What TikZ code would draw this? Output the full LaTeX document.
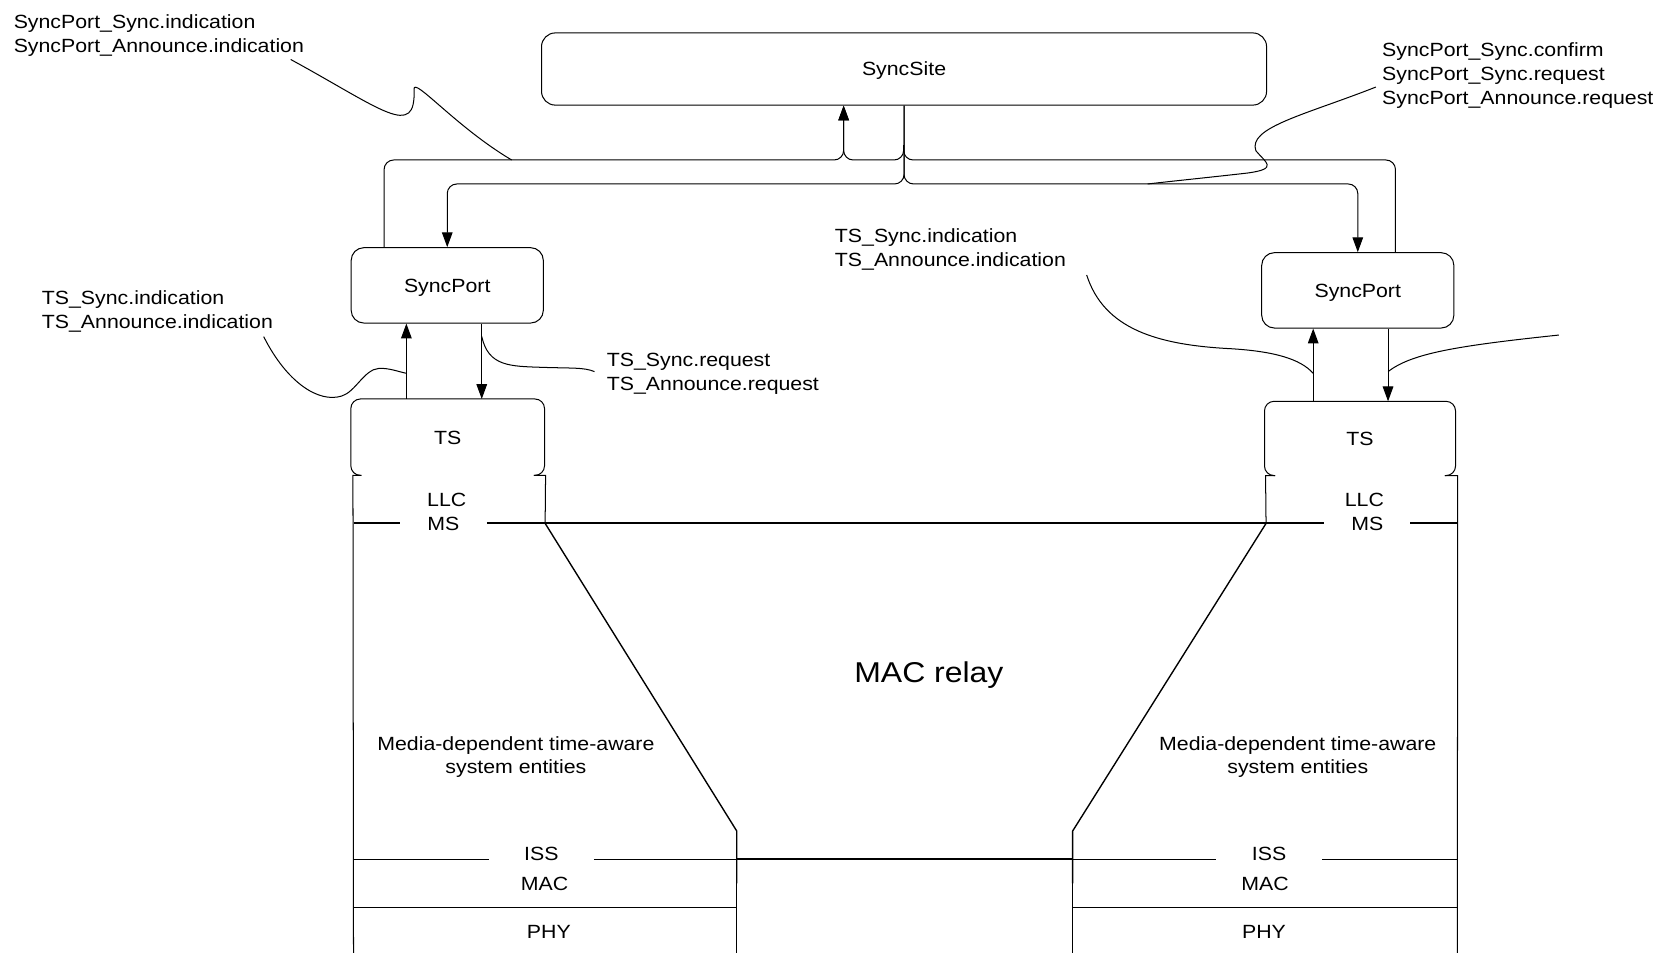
\documentclass[tikz,border=0pt]{standalone}
\usepackage{fontspec}
\setmainfont{Liberation Sans}[FakeStretch=1.115]
\usetikzlibrary{arrows.meta}

\begin{document}
\begin{tikzpicture}[x=1pt,y=-1pt,line width=0.95pt,
    lbl/.style={font=\fontsize{18}{22.5}\selectfont,inner sep=0pt,text height=12.9pt,text depth=0pt},
    note/.style={font=\fontsize{18}{22.5}\selectfont,inner sep=0pt,align=left,anchor=north west},
    box/.style={lbl,draw,rounded corners=12pt,minimum width=181pt,minimum height=71pt},
    arr/.style={-{Triangle[length=14pt,width=10pt]}},
    thk/.style={line width=1.8pt}]
    \useasboundingbox (0,0) rectangle (1568.4,897.7);

    \node [box,minimum width=683pt,minimum height=68pt,rounded corners=13pt] (site) at (851.6,65) {SyncSite};
    \node [box] (spL) at (421.3,268.8) {SyncPort};
    \node [box] (spR) at (1279,273.5) {SyncPort};
    \node [box,draw=none,minimum width=181.5pt] (tsL) at (421.7,411.8) {TS};
    \node [box,draw=none,minimum width=179pt,minimum height=69pt] (tsR) at (1281.1,413) {TS};

    \node [note] (ntA) at (12.5,13.1) {SyncPort\_Sync.indication\\SyncPort\_Announce.indication};
    \node [note] (ntB) at (1301.5,39.9) {SyncPort\_Sync.confirm\\SyncPort\_Sync.request\\SyncPort\_Announce.request};
    \node [note] (ntC) at (39,273.5) {TS\_Sync.indication\\TS\_Announce.indication};
    \node [note] (ntD) at (571.2,332.5) {TS\_Sync.request\\TS\_Announce.request};
    \node [note] (ntE) at (786,214.8) {TS\_Sync.indication\\TS\_Announce.indication};

    \node [lbl] (llcL) at (420.8,470.2) {LLC};
    \node [lbl,minimum width=81pt] (msL) at (417.6,493) {MS};
    \node [lbl] (llcR) at (1285.2,470.2) {LLC};
    \node [lbl,minimum width=80pt] (msR) at (1288,493) {MS};
    \node [lbl,font=\fontsize{27}{32}\selectfont,text height=19.3pt] (relay) at (875,633.3) {MAC relay};
    \node [note,anchor=north,align=center] (mdL) at (486,693) {Media-dependent time-aware\\system entities};
    \node [note,anchor=north,align=center] (mdR) at (1222.5,693) {Media-dependent time-aware\\system entities};
    \node [lbl,minimum width=98pt] (issL) at (510,804.2) {ISS};
    \node [lbl,minimum width=99pt] (issR) at (1195.5,804.2) {ISS};
    \node [lbl] (macL) at (513,831.9) {MAC};
    \node [lbl] (macR) at (1191.6,831.9) {MAC};
    \node [lbl] (phyL) at (517,878) {PHY};
    \node [lbl] (phyR) at (1190.7,878) {PHY};

    \coordinate (upbus) at (794.7,150.7);
    \coordinate (cross) at (851.2,150.7);
    \coordinate (dnbus) at (851.2,173.3);
    \coordinate (issy) at (0,809.5);

    \draw [arr,rounded corners=9pt] ([xshift=-59.5pt]spL.north) |- (upbus) -- (upbus |- site.south);
    \draw [rounded corners=9pt] ([xshift=35.5pt]spR.north) |- (cross) -- ++(0,-14);
    \draw [arr,rounded corners=9pt] (cross) ++(0,-14) -- (cross) -- (upbus) -- (upbus |- site.south);
    \draw [arr,rounded corners=9pt] (site.south) -- (site.south |- dnbus) -| (spL.north);
    \draw [arr,rounded corners=9pt] (site.south) -- (site.south |- dnbus) -| (spR.north);

    \draw [arr] ([xshift=-38.9pt]tsL.north) -- ([xshift=-38.9pt]tsL.north |- spL.south);
    \draw [arr] ([xshift=32.5pt]spL.south) -- ([xshift=32.5pt]spL.south |- tsL.north);
    \draw [arr] ([xshift=-44.1pt]tsR.north) -- ([xshift=-44.1pt]tsR.north |- spR.south);
    \draw [arr] ([xshift=28.5pt]spR.south) -- ([xshift=28.5pt]spR.south |- tsR.north);

    \draw [rounded corners=9pt] ([xshift=10pt]tsL.south west) -| (tsL.north west) -| (tsL.south east) -- ([xshift=-10pt]tsL.south east);
    \draw [rounded corners=9pt] ([xshift=10pt]tsR.south west) -| (tsR.north west) -| (tsR.south east) -- ([xshift=-10pt]tsR.south east);
    \draw ([xshift=10pt]tsL.south west) -- ++(-8,0) -- (333,898);
    \draw ([xshift=-10pt]tsL.south east) -- ++(11,0) -- (513.5,493);
    \draw ([xshift=10pt]tsR.south west) -- ++(-9,0) -- (1192.6,493);
    \draw ([xshift=-10pt]tsR.south east) -- ++(12,0) -- (1372.8,898);

    \draw [thk] (333,493) -- (msL.west) (msL.east) -- (msR.west) (msR.east) -- (1372.8,493);
    \draw [line width=1.3pt] (513.5,493) -- (694,782.8) -- (694,832);
    \draw [line width=1.3pt] (1192.6,493) -- (1010.4,782.8) -- (1010.4,832);
    \draw (694,782.8) -- (694,898);
    \draw (1010.4,782.8) -- (1010.4,898);
    \draw (333,809.5) -- (issL.west |- issy) (issL.east |- issy) -- (694,809.5);
    \draw [thk] (694,809.5) -- (1010.4,809.5);
    \draw (1010.4,809.5) -- (issR.west |- issy) (issR.east |- issy) -- (1372.8,809.5);
    \draw (333,854.7) -- (694,854.7) (1010.4,854.7) -- (1372.8,854.7);

    \draw (273.8,56) .. controls (360,103) and (392,132) .. (390,84) .. controls (389.5,72) and (430,120) .. (482,150.7);
    \draw (248.4,317.1) .. controls (270,360) and (300,380) .. (322,373) .. controls (335,369) and (343,348) .. (357,347) .. controls (366,346.5) and (375,350) .. (383,351.7);
    \draw (453.8,317) .. controls (460,345) and (480,345) .. (510,346) .. controls (540,347) and (550,346) .. (560,350);
    \draw (1023.6,259) .. controls (1040,310) and (1090,325) .. (1160,328.5) .. controls (1200,331) and (1225,338) .. (1237,351.7);
    \draw (1307.5,350) .. controls (1330,333) and (1370,326) .. (1468.4,315.6);
    \draw (1296,82) .. controls (1230,108) and (1175,120) .. (1183,142) .. controls (1192,153) and (1205,159) .. (1175,163) .. controls (1140,167) and (1110,170) .. (1081,173.3);
\end{tikzpicture}
\end{document}
